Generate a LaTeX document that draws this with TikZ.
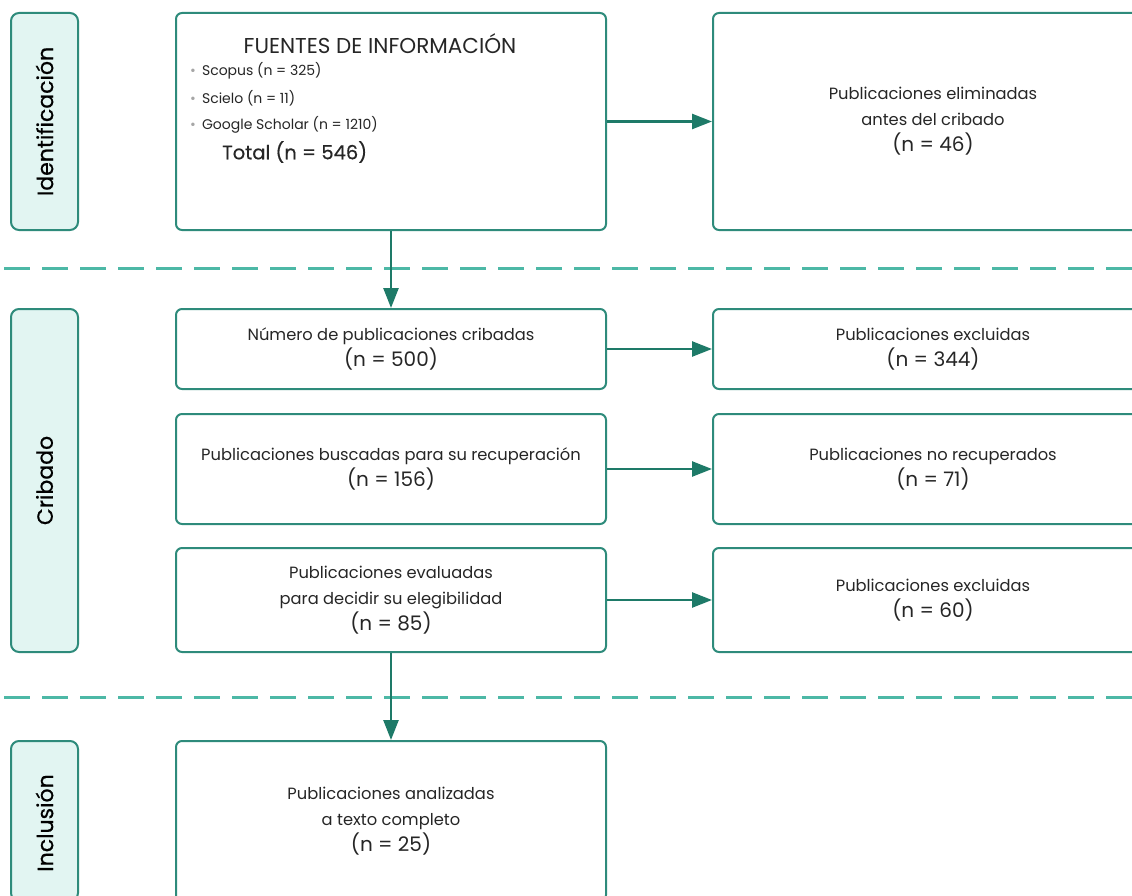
\documentclass[tikz,border=0pt]{standalone}
\usepackage{fontspec}
\setmainfont{Poppins}
\usetikzlibrary{arrows.meta}

\definecolor{boxline}{HTML}{2E8B7B}
\definecolor{flowline}{HTML}{1E7A68}
\definecolor{divline}{HTML}{4DB8A6}
\definecolor{stagefill}{HTML}{E2F5F2}
\definecolor{txt}{HTML}{262626}

\newcommand\nval[1]{{\fontsize{20}{28}\selectfont (n = #1)}}

\begin{document}
\begin{tikzpicture}[x=1pt,y=-1pt,
  box/.style={draw=boxline, line width=2pt, rounded corners=6pt, fill=white,
    anchor=north west, inner sep=0pt, text=txt, align=center,
    font=\fontsize{16.3}{26}\selectfont},
  stagebox/.style={draw=boxline, line width=2pt, rounded corners=8pt,
    fill=stagefill, anchor=north west, inner sep=0pt},
  stagelabel/.style={rotate=90, text=black, font=\fontsize{22}{24}\selectfont\addfontfeatures{FakeBold=0.6}},
  srcitem/.style={anchor=west, inner sep=0pt, text=txt, font=\fontsize{14}{16}\selectfont},
  flow/.style={draw=flowline, line width=2.5pt, -{Triangle[length=20pt,width=15pt]}},
  divider/.style={draw=divline, line width=3pt, dash pattern=on 26pt off 12pt}]

\useasboundingbox (0,0) rectangle (1132,896);
\clip (0,0) rectangle (1132,896);

% stage dividers
\coordinate (d1l) at (4,268);  \coordinate (d1r) at (1140,268);
\coordinate (d2l) at (4,697);  \coordinate (d2r) at (1140,697);
\draw[divider] (d1l) -- (d1r);
\draw[divider] (d2l) -- (d2r);

% stage labels
\node[stagebox, minimum width=67pt, minimum height=217pt] (sid) at (10,12) {};
\node[stagelabel] (lid) at (sid.center) {Identificación};
\node[stagebox, minimum width=67pt, minimum height=343pt] (scr) at (10,308) {};
\node[stagelabel] (lcr) at (scr.center) {Cribado};
\node[stagebox, minimum width=67pt, minimum height=160pt] (sin) at (10,740) {};
\node[stagelabel] (lin) at ([yshift=-2pt]sin.center) {Inclusión};

% identification
\node[box, minimum width=430pt, minimum height=217pt] (fuentes) at (175,12) {};
\node[anchor=center, inner sep=0pt, text=txt, font=\fontsize{21.5}{24}\selectfont]
  (ftitle) at (380,44) {FUENTES DE INFORMACIÓN};
\node[srcitem] (fs1) at (190,71) {{\color{black!35}•}\, Scopus (n = 325)};
\node[srcitem] (fs2) at (190,98) {{\color{black!35}•}\, Scielo (n = 11)};
\node[srcitem] (fs3) at (190,125) {{\color{black!35}•}\, Google Scholar (n = 1210)};
\node[srcitem, font=\fontsize{19.5}{22}\selectfont\addfontfeatures{FakeBold=0.5}] (ftot) at (222,152) {Total (n = 546)};

\node[box, minimum width=440pt, minimum height=217pt] (elim) at (712,12)
  {Publicaciones eliminadas\\ antes del cribado\\ \nval{46}};

% screening
\node[box, minimum width=430pt, minimum height=80pt] (crib) at (175,308)
  {Número de publicaciones cribadas\\ \nval{500}};
\node[box, minimum width=440pt, minimum height=80pt] (exc1) at (712,308)
  {Publicaciones excluidas\\ \nval{344}};

\node[box, minimum width=430pt, minimum height=110pt] (busc) at (175,413)
  {Publicaciones buscadas para su recuperación\\ \nval{156}};
\node[box, minimum width=440pt, minimum height=110pt] (norec) at (712,413)
  {Publicaciones no recuperados\\ \nval{71}};

\node[box, minimum width=430pt, minimum height=104pt] (eval) at (175,547)
  {Publicaciones evaluadas\\ para decidir su elegibilidad\\ \nval{85}};
\node[box, minimum width=440pt, minimum height=104pt] (exc2) at (712,547)
  {Publicaciones excluidas\\ \nval{60}};

% inclusion
\node[box, minimum width=430pt, minimum height=160pt] (incl) at (175,740)
  {Publicaciones analizadas\\ a texto completo\\ \nval{25}};

% flow connectors
\draw[flow] (fuentes.east) -- (elim.west);
\draw[flow] (fuentes.south) -- (crib.north);
\draw[flow] (crib.east) -- (exc1.west);
\draw[flow] (busc.east) -- (norec.west);
\draw[flow] (eval.east) -- (exc2.west);
\draw[flow] (eval.south) -- (incl.north);
\end{tikzpicture}
\end{document}
